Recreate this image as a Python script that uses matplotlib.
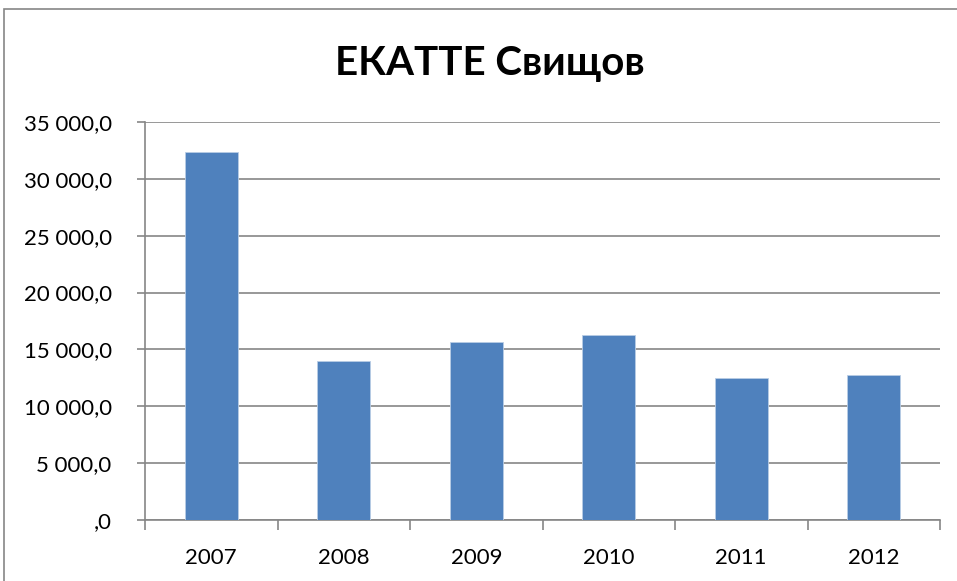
import matplotlib
matplotlib.use("Agg")
import matplotlib.pyplot as plt
from matplotlib.ticker import FuncFormatter, FixedLocator
from matplotlib.patches import Rectangle

years = ["2007", "2008", "2009", "2010", "2011", "2012"]
values = [32400, 13970, 15640, 16290, 12520, 12710]
title = "ЕКАТТЕ Свищов"

plt.rcParams['font.family'] = ['Lato', 'DejaVu Sans']

fig = plt.figure(figsize=(9.57, 5.81), dpi=100)
# outer chart border
fig.patches.append(Rectangle((4/957, -0.05), 1.1, 1 - 9/581 + 0.05, transform=fig.transFigure,
                             fill=False, edgecolor='#868686', linewidth=1.2))

ax = fig.add_axes([145/957, 1 - 520/581, (940-145)/957, (520-122)/581])
x = range(len(years))
ax.bar(x, values, width=0.4, color='#4F81BD', edgecolor='#B9CDE5', linewidth=0.6, zorder=3)
ax.set_xlim(-0.5, len(years) - 0.5)
ax.set_ylim(0, 35000)
ax.set_yticks(range(0, 35001, 5000))

def fmt(v, pos):
    v = int(round(v))
    if v == 0:
        return ",0"
    s = f"{v:,}".replace(",", " ")
    return s + ",0"

ax.yaxis.set_major_formatter(FuncFormatter(fmt))
ax.yaxis.grid(True, color='#868686', linewidth=1.2, zorder=0)
ax.set_xticks(list(x))
ax.set_xticklabels(years)
ax.xaxis.set_minor_locator(FixedLocator([i - 0.5 for i in range(len(years) + 1)]))
ax.tick_params(axis='x', which='major', length=0, pad=20, labelsize=16)
ax.tick_params(axis='x', which='minor', length=7, width=1.2, color='#868686', direction='out')
ax.tick_params(axis='y', length=6, width=1.2, color='#868686', direction='out', labelsize=16, pad=18)
for s in ['top', 'right']:
    ax.spines[s].set_visible(False)
for s in ['left', 'bottom']:
    ax.spines[s].set_color('#868686')
    ax.spines[s].set_linewidth(1.2)

fig.text(490/957, 1 - 64/581, title, ha='center', va='center', fontsize=29, fontweight='bold')

fig.savefig("out.png", dpi=100)
